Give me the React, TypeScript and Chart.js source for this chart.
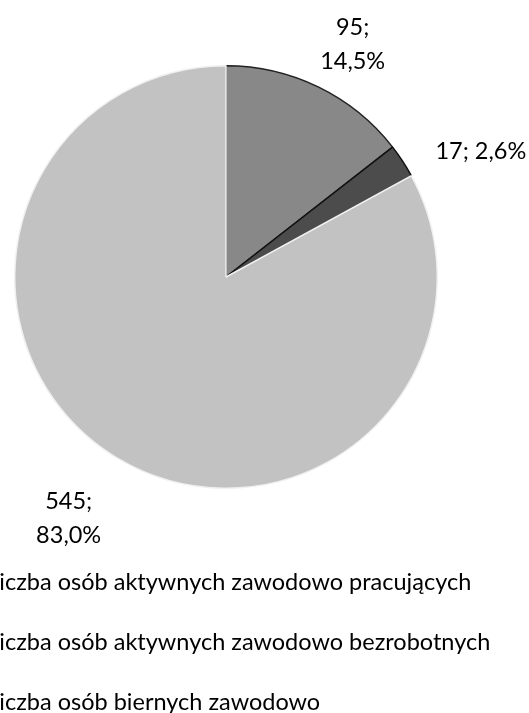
import React, { useEffect, useRef } from "react";
import { Chart, registerables } from "chart.js";

Chart.register(...registerables);

const categories = [
  "Liczba osób aktywnych zawodowo pracujących",
  "Liczba osób aktywnych zawodowo bezrobotnych",
  "Liczba osób biernych zawodowo",
];
const values = [95, 17, 545];
const colors = ["#888888", "#4c4c4c", "#c2c2c2"];
const labelWrap = [true, false, true];

const FONT = "Lato, 'Open Sans', sans-serif";
const FONT_SIZE = 23.5;

// label placement tweaks (radial extra distance in px, angle nudge in degrees)
const labelExtra = [54, 73, 77];
const labelNudge = [2.5, 7, 2.4];

const dataLabelsPlugin = {
  id: "dataLabelsCustom",
  afterDatasetsDraw(chart: any) {
    const ctx = chart.ctx;
    const meta = chart.getDatasetMeta(0);
    const data = chart.data.datasets[0].data as number[];
    const total = data.reduce((a, b) => a + b, 0);
    ctx.save();
    ctx.font = `${FONT_SIZE}px ${FONT}`;
    ctx.fillStyle = "#000";
    ctx.textAlign = "center";
    ctx.textBaseline = "middle";
    meta.data.forEach((arc: any, i: number) => {
      const p = arc.getProps(["x", "y", "startAngle", "endAngle", "outerRadius"], true);
      const mid = (p.startAngle + p.endAngle) / 2 + (labelNudge[i] * Math.PI) / 180;
      const d = p.outerRadius + labelExtra[i];
      const lx = p.x + Math.cos(mid) * d;
      const ly = p.y + Math.sin(mid) * d;
      const pct = ((data[i] / total) * 100).toFixed(1).replace(".", ",") + "%";
      const first = `${data[i]};`;
      if (labelWrap[i]) {
        ctx.fillText(first, lx, ly - 17);
        ctx.fillText(pct, lx, ly + 17);
      } else {
        ctx.fillText(`${first} ${pct}`, lx, ly);
      }
    });
    ctx.restore();
  },
};

const legendPlugin = {
  id: "legendCustom",
  afterDraw(chart: any) {
    const ctx = chart.ctx;
    ctx.save();
    ctx.font = `${FONT_SIZE}px ${FONT}`;
    ctx.fillStyle = "#000";
    ctx.textAlign = "left";
    ctx.textBaseline = "middle";
    const startY = chart.chartArea.bottom + 93;
    const x = 5 - ctx.measureText("Li").width;
    (chart.data.labels as string[]).forEach((lab, i) => {
      ctx.fillText(lab, x, startY + i * 60);
    });
    ctx.restore();
  },
};

export default function App() {
  const ref = useRef<HTMLCanvasElement>(null);
  useEffect(() => {
    if (!ref.current) return;
    const chart = new Chart(ref.current, {
      type: "pie",
      data: {
        labels: categories,
        datasets: [
          {
            data: values,
            backgroundColor: colors,
            borderColor: ["#222", "#111", "#f0f0f0"],
            borderWidth: 1.5,
          },
        ],
      },
      options: {
        responsive: false,
        animation: false,
        layout: { padding: { left: 14, right: 91, top: 65, bottom: 224 } },
        plugins: {
          legend: { display: false },
          tooltip: { enabled: false },
        },
      },
      plugins: [dataLabelsPlugin, legendPlugin],
    });
    return () => chart.destroy();
  }, []);
  return (
    <div style={{ position: "absolute", left: 0, top: 0, width: 529, height: 713, background: "#fff" }}>
      <canvas ref={ref} width={529} height={713} style={{ display: "block" }} />
    </div>
  );
}
